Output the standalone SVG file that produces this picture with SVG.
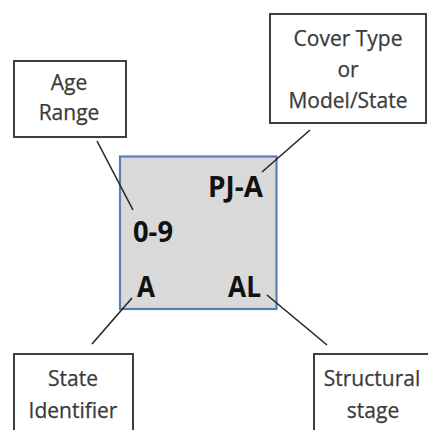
<svg xmlns="http://www.w3.org/2000/svg" width="428" height="430" viewBox="0 0 428 430">
<style>
.lbl{fill:#ffffff;stroke:#3f3f3f;stroke-width:2}
.lt{font-family:"Open Sans","Liberation Sans",sans-serif;font-size:21px;fill:#3a3a3a;text-anchor:middle;stroke:#3a3a3a;stroke-width:0.25}
.bt{font-family:"Open Sans","Liberation Sans",sans-serif;font-size:28px;font-weight:bold;fill:#111111}
.con{stroke:#262626;stroke-width:1.6;fill:none}
</style>
<rect width="428" height="430" fill="#ffffff"/>
<g id="state-box">
<rect x="120" y="156.5" width="156.5" height="152.5" fill="#d9d9d9" stroke="#5b7fb5" stroke-width="2.2"/>
<text class="bt" x="208" y="197" textLength="55" lengthAdjust="spacingAndGlyphs">PJ-A</text>
<text class="bt" x="133" y="242" textLength="40" lengthAdjust="spacingAndGlyphs">0-9</text>
<text class="bt" x="137" y="297" textLength="18" lengthAdjust="spacingAndGlyphs">A</text>
<text class="bt" x="228" y="297" textLength="33" lengthAdjust="spacingAndGlyphs">AL</text>
</g>
<g id="age-range">
<rect class="lbl" x="14" y="61" width="112" height="76"/>
<text class="lt" x="69" y="90">Age</text>
<text class="lt" x="69" y="120">Range</text>
</g>
<g id="cover-type">
<rect class="lbl" x="270" y="14" width="156" height="109"/>
<text class="lt" x="348" y="46">Cover Type</text>
<text class="lt" x="348" y="77">or</text>
<text class="lt" x="348" y="108">Model/State</text>
</g>
<g id="state-identifier">
<rect class="lbl" x="14" y="354" width="119" height="90"/>
<text class="lt" x="73" y="386">State</text>
<text class="lt" x="73" y="418">Identifier</text>
</g>
<g id="structural-stage">
<rect class="lbl" x="314" y="354" width="130" height="90"/>
<text class="lt" x="372" y="386">Structural</text>
<text class="lt" x="373" y="418">stage</text>
</g>
<g id="connectors">
<line class="con" x1="97" y1="141" x2="133" y2="210"/>
<line class="con" x1="310" y1="130" x2="262" y2="172"/>
<line class="con" x1="132" y1="298" x2="92" y2="344"/>
<line class="con" x1="267" y1="295" x2="327" y2="345"/>
</g>
</svg>
